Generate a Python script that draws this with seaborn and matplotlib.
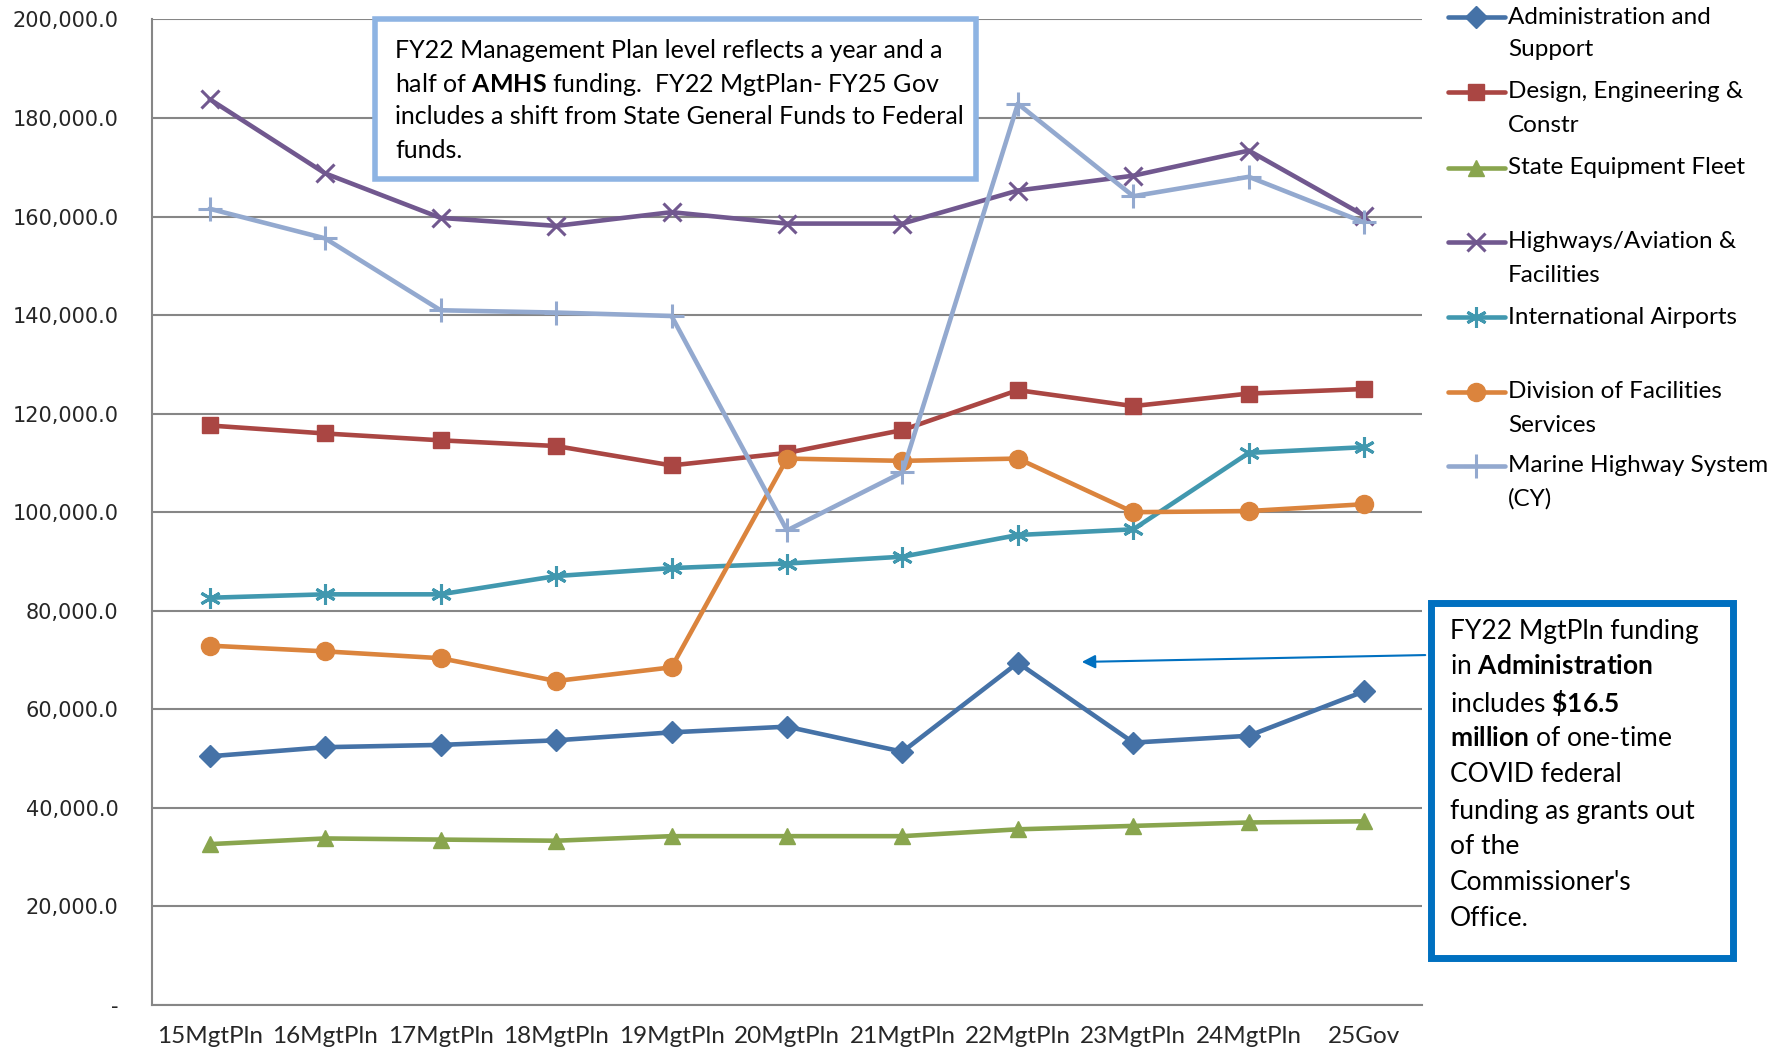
import numpy as np
import pandas as pd
import matplotlib
matplotlib.use("Agg")
import matplotlib.pyplot as plt
import seaborn as sns
from matplotlib.lines import Line2D
from matplotlib.patches import Rectangle, FancyArrowPatch
from matplotlib.ticker import FuncFormatter

# --- data (thousands of $) ---
categories = ["15MgtPln", "16MgtPln", "17MgtPln", "18MgtPln", "19MgtPln", "20MgtPln",
              "21MgtPln", "22MgtPln", "23MgtPln", "24MgtPln", "25Gov"]

admin = [50463, 52315, 52778, 53704, 55324, 56481, 51389, 69444, 53241, 54630, 63657]
design = [117593, 115972, 114583, 113426, 109491, 112037, 116667, 124769, 121528, 124074, 125000]
fleet = [32639, 33796, 33565, 33333, 34259, 34259, 34259, 35648, 36343, 37037, 37269]
highways = [183796, 168750, 159722, 158102, 160880, 158565, 158565, 165278, 168287, 173380, 160185]
airports = [82639, 83333, 83333, 87037, 88657, 89583, 90972, 95370, 96528, 112037, 113194]
facilities = [72917, 71759, 70370, 65741, 68519, 110880, 110417, 110880, 100000, 100231, 101620]
marine = [161574, 155556, 140972, 140509, 139815, 96296, 108102, 182870, 164120, 168056, 158796]

series_names = ["Administration and Support", "Design, Engineering & Constr",
                "State Equipment Fleet", "Highways/Aviation & Facilities",
                "International Airports", "Division of Facilities Services",
                "Marine Highway System (CY)"]
legend_labels = [["Administration and", "Support"], ["Design, Engineering &", "Constr"],
                 ["State Equipment Fleet"], ["Highways/Aviation &", "Facilities"],
                 ["International Airports"], ["Division of Facilities", "Services"],
                 ["Marine Highway System", "(CY)"]]
series_values = [admin, design, fleet, highways, airports, facilities, marine]

box1_lines = ["FY22 Management Plan level reflects a year and a",
              r"half of $\bf{AMHS}$ funding.  FY22 MgtPlan- FY25 Gov",
              "includes a shift from State General Funds to Federal",
              "funds."]
box2_lines = ["FY22 MgtPln funding",
              r"in $\bf{Administration}$",
              r"includes $\bf{\$16.5}$",
              r"$\bf{million}$ of one-time",
              "COVID federal",
              "funding as grants out",
              "of the",
              "Commissioner's",
              "Office."]

colors = ["#4572A7", "#AA4643", "#89A54E", "#71588F", "#4198AF", "#DB843D", "#93A9CF"]
markers = ["D", "s", "^", "x", (6, 2, 0), "o", "+"]
msizes = [11, 12, 12, 13, 15, 13, 17]
mews = [1, 1, 1, 2.2, 2.2, 1, 2.2]

sns.set_style("white")
plt.rcParams["font.family"] = ["Lato", "DejaVu Sans"]
plt.rcParams["mathtext.fontset"] = "custom"
plt.rcParams["mathtext.rm"] = "Lato"
plt.rcParams["mathtext.bf"] = "Lato:bold"

fig = plt.figure(figsize=(17.88, 10.54), dpi=100)
ax = fig.add_axes([0.085, 0.0465, 0.7103, 0.9351])

for name, vals, c, m, ms, mew in zip(series_names, series_values, colors, markers, msizes, mews):
    df = pd.DataFrame({"period": categories, "value": vals})
    sns.lineplot(data=df, x="period", y="value", ax=ax, color=c, lw=3.3, marker=m,
                 markersize=ms, markeredgewidth=mew, markeredgecolor=c, sort=False,
                 label=name, legend=False, zorder=3)

ax.set_xlim(-0.5, len(categories) - 0.5)
ax.set_ylim(0, 200000)
ax.set_yticks(np.arange(0, 200001, 20000))
ax.yaxis.set_major_formatter(FuncFormatter(lambda v, p: "-" if v == 0 else f"{v:,.1f}"))
ax.grid(axis="y", color="#868686", lw=1.5)
ax.set_axisbelow(True)
for s in ["top", "right"]:
    ax.spines[s].set_visible(False)
for s in ["left", "bottom"]:
    ax.spines[s].set_color("#868686")
    ax.spines[s].set_linewidth(1.5)
ax.tick_params(axis="y", length=0, pad=24, labelsize=15)
ax.tick_params(axis="x", length=0, pad=15, labelsize=17.5)
for lab in ax.get_yticklabels():
    lab.set_fontfamily("DejaVu Sans")
ax.set_xlabel("")
ax.set_ylabel("")

H = 1054.0
W = 1788.0


def put_lines(lines, x, y0, pitch, size):
    # one text per line so the spacing stays even with bold parts
    for i, t in enumerate(lines):
        fig.text(x / W, 1 - (y0 + i * pitch) / H, t, ha="left", va="center",
                 fontsize=size, color="black", zorder=7)


# --- legend drawn on the right, one slot per series ---
leg_y = [17, 92, 168, 242, 317, 392, 466]
for lbl, c, m, ms, mew, yy in zip(legend_labels, colors, markers, msizes, mews, leg_y):
    yf = 1 - yy / H
    fig.add_artist(Line2D([1448 / W, 1476 / W, 1505 / W], [yf, yf, yf], transform=fig.transFigure,
                          color=c, lw=3.3, marker=m, markersize=ms, markeredgewidth=mew,
                          markeredgecolor=c, markevery=[1]))
    put_lines(lbl, 1508, yy, 33, 17.5)

# --- annotation box 1 ---
fig.add_artist(Rectangle((375 / W, 1 - 179 / H), 601 / W, 160 / H, transform=fig.transFigure,
                         facecolor="white", edgecolor="#8EB4E3", lw=4, zorder=5))
put_lines(box1_lines, 395, 51, 33, 18)

# --- annotation box 2 with arrow ---
fig.add_artist(Rectangle((1431 / W, 1 - 958 / H), 302 / W, 355 / H, transform=fig.transFigure,
                         facecolor="white", edgecolor="#0070C0", lw=5, zorder=5))
put_lines(box2_lines, 1450, 631, 36, 19)

fig.add_artist(FancyArrowPatch(
    (1428 / W, 1 - 655 / H), (1079 / W, 1 - 662 / H), transform=fig.transFigure,
    arrowstyle="-|>,head_length=8,head_width=4", color="#0070C0", lw=1.5, zorder=6))

plt.savefig("out.png", dpi=100)
